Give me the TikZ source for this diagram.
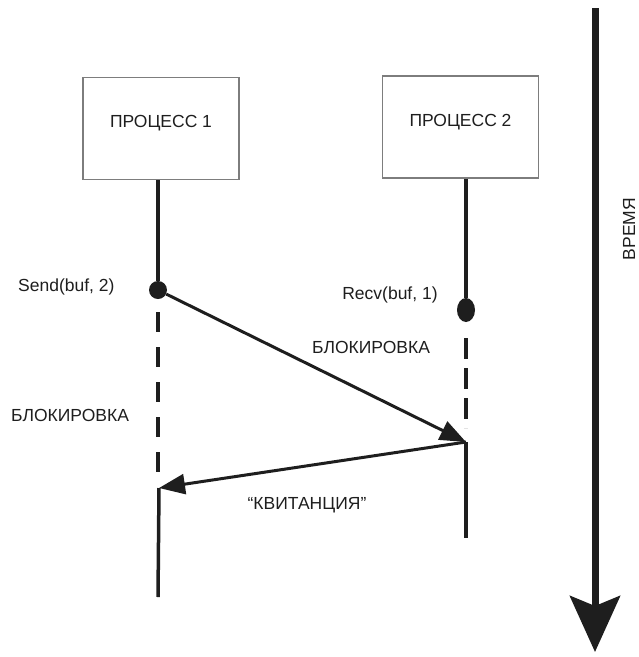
\documentclass[tikz,border=0pt]{standalone}
\usepackage{fontspec}
\setmainfont{Liberation Sans}
\usepackage{xcolor}
\definecolor{InkGray}{RGB}{30,30,30}
\definecolor{BoxGray}{RGB}{125,125,125}
\usetikzlibrary{arrows.meta,shapes.geometric}

\begin{document}
\begin{tikzpicture}[x=1pt,y=-1pt,font=\fontsize{17.5}{21}\selectfont,text=InkGray,
  procbox/.style={draw=BoxGray,line width=1.2pt,minimum width=156pt,minimum height=102pt,text depth=14pt},
  lifeline/.style={draw=InkGray,line width=3.5pt},
  waitline/.style={lifeline,dash pattern=on 20pt off 15pt},
  msg/.style={draw=InkGray,line width=3pt,-{Triangle[length=26pt,width=20pt]}},
  event/.style={circle,fill=InkGray,inner sep=0pt,minimum size=18pt}]
  \useasboundingbox (0,0) rectangle (639,657);

  % processes
  \node[procbox] (proc1) at (161,128.5) {ПРОЦЕСС 1};
  \node[procbox] (proc2) at (460.5,127) {ПРОЦЕСС 2};

  % events on the life lines
  \node[event] (send) at (158,290) {};
  \node[event,ellipse,minimum height=24pt] (recv) at (466,310) {};
  \coordinate (wait1a) at (158,312);
  \coordinate (wait1b) at (158,472);
  \coordinate (ack1) at (159,488);
  \coordinate (end1) at (158,597);
  \coordinate (wait2a) at (466,338);
  \coordinate (wait2b) at (466,428);
  \coordinate (ack2) at (466,442);
  \coordinate (end2) at (466,538);

  % life lines
  \draw[lifeline] (proc1.south -| send) -- (send);
  \draw[waitline] (wait1a) -- (wait1b);
  \draw[lifeline] (ack1) -- (end1);
  \draw[lifeline] (proc2.south -| recv) -- (recv);
  \draw[waitline,dash pattern=on 21pt off 9pt] (wait2a) -- (wait2b);
  \draw[lifeline] (ack2) -- (end2);

  % messages
  \draw[msg] (send) -- (ack2);
  \draw[msg] (ack2) -- (ack1);

  % labels
  \node[anchor=east] (sendlbl) at (118,287) {Send(buf, 2)};
  \node (recvlbl) at (390,295) {Recv(buf, 1)};
  \node (blk2) at (371,347) {БЛОКИРОВКА};
  \node (blk1) at (70,415) {БЛОКИРОВКА};
  \node (acklbl) at (307,505) {“КВИТАНЦИЯ”};

  % time axis
  \coordinate (time0) at (595,8);
  \coordinate (time1) at (595,652);
  \draw[line width=7pt,draw=InkGray,-{Stealth[length=56pt,width=50pt,inset=10pt]}] (time0) -- (time1);
  \node[rotate=90] (timelbl) at (629,229) {ВРЕМЯ};
\end{tikzpicture}
\end{document}
